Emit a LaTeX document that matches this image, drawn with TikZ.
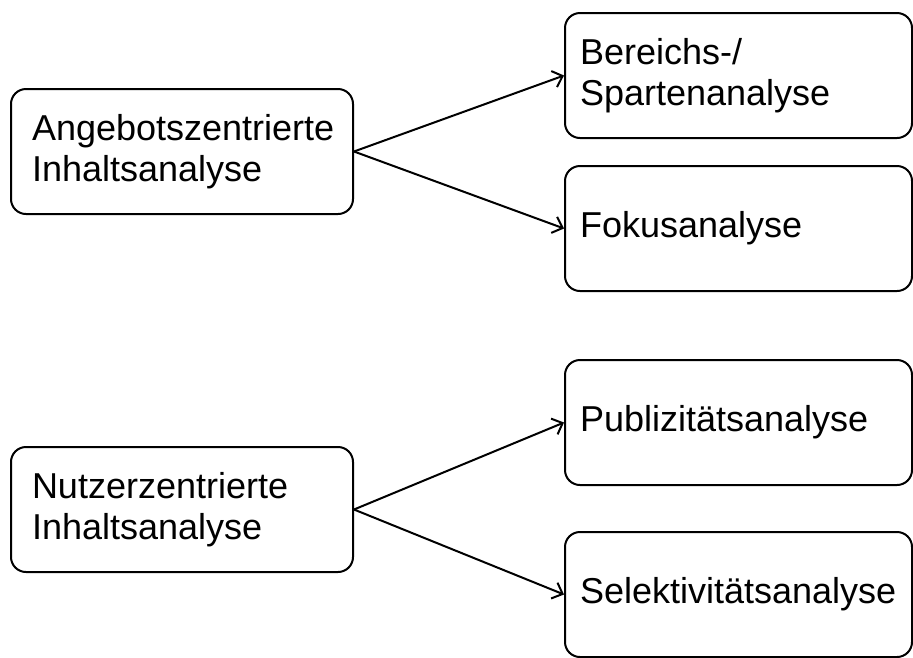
\documentclass[tikz,border=0pt]{standalone}
\usepackage{fontspec}
\setmainfont{Liberation Sans}
\usetikzlibrary{arrows.meta}
\begin{document}
\begin{tikzpicture}[x=1pt,y=-1pt,
  box/.style={draw=black, line width=2pt, rounded corners=15pt, anchor=north west,
    minimum height=125pt, align=left, font=\fontsize{36}{41.5}\selectfont},
  leftbox/.style={box, minimum width=342pt, text width=300pt, inner xsep=21pt},
  rightbox/.style={box, minimum width=347pt, text width=317pt, inner xsep=15pt},
  conn/.style={line width=2pt, -{Straight Barb[length=9pt,width=17pt,line width=2pt]}}]
\useasboundingbox (0,0) rectangle (913,657);
\node[leftbox] (a) at (10,88) {Angebotszentrierte\\Inhaltsanalyse};
\node[rightbox] (b) at (564,12) {Bereichs-/\\Spartenanalyse};
\node[rightbox] (c) at (564,165) {Fokusanalyse};
\node[leftbox] (n) at (10,446) {Nutzerzentrierte\\Inhaltsanalyse};
\node[rightbox] (p) at (564,359) {Publizitätsanalyse};
\node[rightbox] (s) at (564,531) {Selektivitätsanalyse};
\draw[conn] (a.east) -- (b.west);
\draw[conn] (a.east) -- (c.west);
\draw[conn] (n.east) -- (p.west);
\draw[conn] (n.east) -- (s.west);
\end{tikzpicture}
\end{document}
